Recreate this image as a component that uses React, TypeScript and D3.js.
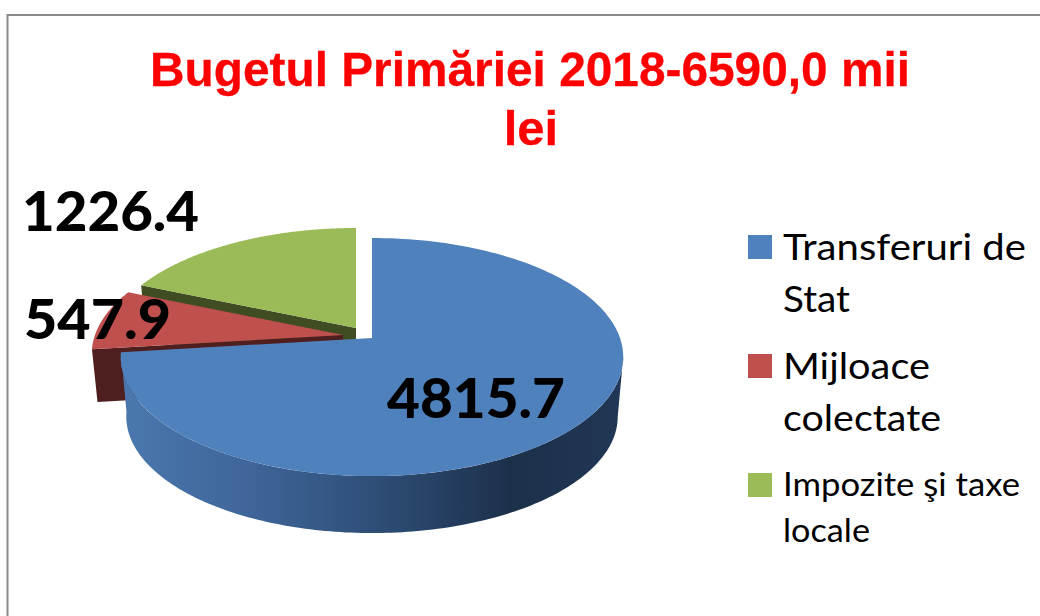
import React from "react";
import * as d3 from "d3";

const titleLines = ["Bugetul Primăriei 2018-6590,0 mii", "lei"];
const categories = ["Transferuri de Stat", "Mijloace colectate", "Impozite şi taxe locale"];
const values = [4815.7, 547.9, 1226.4];
const legendLines = [["Transferuri de", "Stat"], ["Mijloace", "colectate"], ["Impozite şi taxe", "locale"]];

const colors = ["#4f81bd", "#c0504d", "#9bbb59"];
const sideColors = ["#2f4f78", "#4f1f1f", "#404d22"];
const fmt = d3.format(".1f");

// perspective disc model
const AX = 372, AY = 338, A = 248, B = 116, K = 0.16;
const SHRINK = 0.978;
const depths = [60, 53, 53];
const offsets: [number, number][] = [[0, 0], [-29, -3], [-16, -10]];

const project = (theta: number, r: number, i: number, bottom: boolean): [number, number] => {
  const X = Math.sin(theta) * r, Y = Math.cos(theta) * r, w = 1 + K * Y;
  const px = A * X / w, py = -B * Y / w;
  const s = bottom ? SHRINK : 1;
  const o = offsets[i];
  return [AX + o[0] + px * s, AY + o[1] + py * s + (bottom ? depths[i] : 0)];
};

const line = d3.line<[number, number]>().x(d => d[0]).y(d => d[1]);
const arcPts = (a0: number, a1: number, i: number, bottom: boolean) =>
  d3.range(0, 161).map(k => project(a0 + (a1 - a0) * k / 160, 1, i, bottom));

const pie = d3.pie<number>().sort(null).value(d => d);
const arcs = pie(values);

function topFace(i: number) {
  const a = arcs[i];
  return line([project(0, 0, i, false), ...arcPts(a.startAngle, a.endAngle, i, false)])! + "Z";
}
function cutSide(theta: number, i: number) {
  return line([project(0, 0, i, false), project(theta, 1, i, false), project(theta, 1, i, true), project(0, 0, i, true)])! + "Z";
}

export default function App() {
  const blue = arcs[0];
  // the wall starts where the disc reaches its right-hand extreme: cos(theta) = -K
  const wallStart = Math.acos(-K);
  const blueSide = line([
    ...arcPts(wallStart, blue.endAngle, 0, false),
    ...arcPts(wallStart, blue.endAngle, 0, true).reverse(),
  ])! + "Z";
  const red = arcs[1];
  const green = arcs[2];
  return (
    <svg width={1040} height={616} style={{ position: "absolute", left: 0, top: 0 }}>
      <defs>
        <linearGradient id="blueSide" gradientUnits="userSpaceOnUse" x1={121} x2={623} y1={0} y2={0}>
          <stop offset="0" stopColor="#4a78ae" />
          <stop offset="0.25" stopColor="#3f669a" />
          <stop offset="0.5" stopColor="#2f4f78" />
          <stop offset="0.78" stopColor="#1c304a" />
          <stop offset="1" stopColor="#203755" />
        </linearGradient>
      </defs>
      <rect x={0} y={0} width={1040} height={616} fill="#fff" />
      <path d="M7.5,616 V15 H1040" fill="none" stroke="#8a8a8a" strokeWidth={2} />

      <g fontFamily="'Liberation Sans', Arial, sans-serif" fontWeight={700} fontSize={49} fill="#ff0000" stroke="#ff0000" strokeWidth={0.3} textAnchor="middle">
        <text x={530} y={86} textLength={760} lengthAdjust="spacingAndGlyphs">{titleLines[0]}</text>
        <text x={531} y={145}>{titleLines[1]}</text>
      </g>

      <path d={cutSide(green.startAngle, 2)} fill={sideColors[2]} />
      <path d={cutSide(green.endAngle, 2)} fill={sideColors[2]} />
      <path d={topFace(2)} fill={colors[2]} />
      <path d={cutSide(red.startAngle, 1)} fill={sideColors[1]} />
      <path d={topFace(1)} fill={colors[1]} />
      <path d={blueSide} fill="url(#blueSide)" />
      <path d={topFace(0)} fill={colors[0]} />

      <g fontFamily="Lato, sans-serif" fontWeight={900} fontSize={56} fill="#000">
        <text x={22} y={231} textLength={177} lengthAdjust="spacingAndGlyphs">{fmt(values[2])}</text>
        <text x={24} y={339} textLength={147} lengthAdjust="spacingAndGlyphs">{fmt(values[1])}</text>
        <text x={387} y={418} textLength={178} lengthAdjust="spacingAndGlyphs">{fmt(values[0])}</text>
      </g>

      {categories.map((c, i) => (
        <rect key={c} x={748} y={235 + i * 119} width={24} height={24} fill={colors[i]} />
      ))}
      <g fontFamily="Lato, sans-serif" fill="#000">
        <text x={783} y={260} fontSize={37} textLength={243} lengthAdjust="spacingAndGlyphs">{legendLines[0][0]}</text>
        <text x={783} y={312} fontSize={37} textLength={67} lengthAdjust="spacingAndGlyphs">{legendLines[0][1]}</text>
        <text x={783} y={379} fontSize={37} textLength={147} lengthAdjust="spacingAndGlyphs">{legendLines[1][0]}</text>
        <text x={783} y={431} fontSize={37} textLength={158} lengthAdjust="spacingAndGlyphs">{legendLines[1][1]}</text>
        <text x={783} y={496} fontSize={33} textLength={237} lengthAdjust="spacingAndGlyphs">{legendLines[2][0]}</text>
        <text x={783} y={542} fontSize={33} textLength={87} lengthAdjust="spacingAndGlyphs">{legendLines[2][1]}</text>
      </g>
    </svg>
  );
}
